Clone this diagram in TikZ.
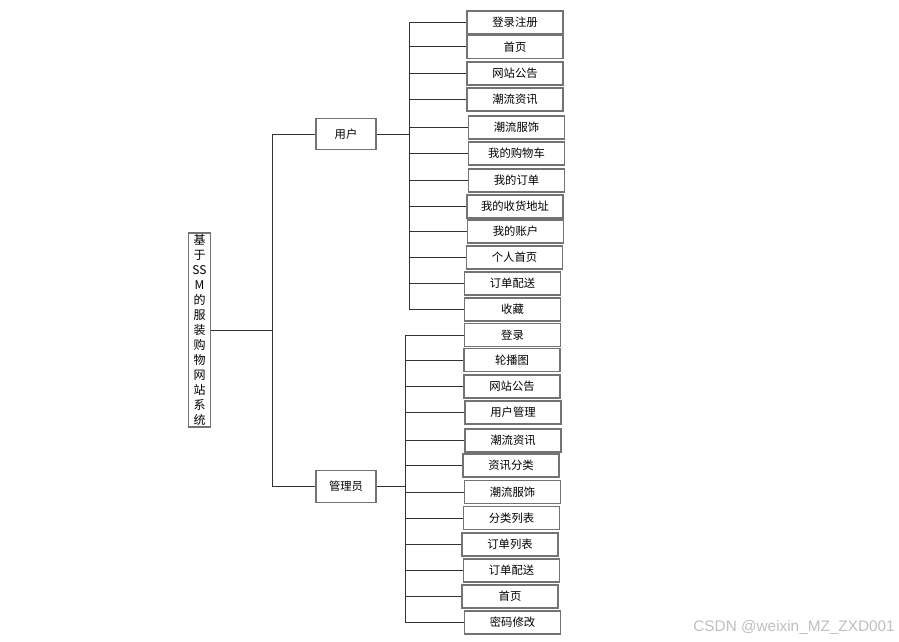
\documentclass[tikz,border=0pt]{standalone}
\usepackage{fontspec}
\setmainfont{Noto Sans CJK SC}
\newfontfamily\wmfont{Liberation Sans}
\begin{document}
\begin{tikzpicture}[x=0.75pt,y=-0.75pt,
  box/.style={draw=black!55, line width=0.9pt, fill=white, inner sep=0pt, text=black,
    font=\fontsize{8.5}{10}\selectfont},
  leaf/.style={box, minimum width=72pt, minimum height=17.25pt},
  mid/.style={box, minimum width=45pt, minimum height=23.5pt},
  conn/.style={draw=black!80, line width=0.75pt}]
\useasboundingbox (0,0) rectangle (899,642);
\coordinate (rb) at (272,0);
\coordinate (ub) at (409,0);
\coordinate (ab) at (405,0);
\node[box, minimum width=16.5pt, minimum height=145.5pt, align=center,
  font=\fontsize{9}{11.2}\selectfont] (root) at (199.5,330)
  {基\\于\\SS\\M\\的\\服\\装\\购\\物\\网\\站\\系\\统};
\node[mid] (user) at (346,134) {用户};
\node[mid] (admin) at (346,486.5) {管理员};
\draw[conn] (root.east) -- (root.east -| rb);
\draw[conn] (user.west -| rb) -- (admin.west -| rb);
\draw[conn] (user.west -| rb) -- (user.west);
\draw[conn] (admin.west -| rb) -- (admin.west);
\foreach \x/\y/\t [count=\i] in {515/22.5/登录注册, 515/47/首页, 515/73.5/网站公告, 515/99.5/潮流资讯,
  516.5/127.5/潮流服饰, 516.5/153.5/我的购物车, 516.5/180.5/我的订单, 515/206.5/我的收货地址,
  515.5/231.5/我的账户, 514.5/257.5/个人首页, 512.5/283.5/订单配送, 512.5/309.5/收藏}
{
  \node[leaf] (u\i) at (\x,\y) {\t};
  \draw[conn] (u\i.west) -- (u\i.west -| ub);
}
\draw[conn] (u1.west -| ub) -- (u12.west -| ub);
\draw[conn] (user.east) -- (user.east -| ub);
\foreach \x/\y/\t [count=\i] in {512.5/335/登录, 512/360/轮播图, 512/386.5/网站公告, 513/412.5/用户管理,
  513/440.5/潮流资讯, 511/465.5/资讯分类, 512.5/492/潮流服饰, 511.5/518/分类列表,
  510/544.5/订单列表, 511.5/570.5/订单配送, 510/596.5/首页, 512.5/622.5/密码修改}
{
  \node[leaf] (a\i) at (\x,\y) {\t};
  \draw[conn] (a\i.west) -- (a\i.west -| ab);
}
\draw[conn] (a1.west -| ab) -- (a12.west -| ab);
\draw[conn] (admin.east) -- (admin.east -| ab);
\node[anchor=east, inner sep=0pt, text=black!25, font=\wmfont\fontsize{11.5}{13}\selectfont] (wm)
  at (895,627) {CSDN @weixin\_MZ\_ZXD001};
\end{tikzpicture}
\end{document}
